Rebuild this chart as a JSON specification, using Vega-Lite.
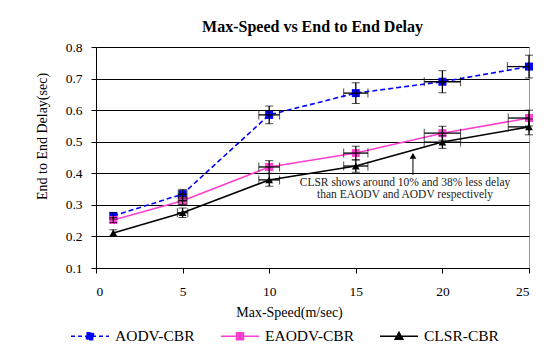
{
  "$schema": "https://vega.github.io/schema/vega-lite/v6.json",
  "width": 433,
  "height": 221,
  "autosize": {"type": "none"},
  "padding": {"left": 96, "top": 47, "right": 28, "bottom": 88},
  "background": "white",
  "title": {"text": "Max-Speed vs End to End Delay", "font": "Liberation Serif, Times New Roman, serif", "fontSize": 16, "fontWeight": "bold", "color": "#000", "offset": 5, "anchor": "middle"},
  "config": {
    "view": {"stroke": "#9a9a9a", "strokeWidth": 1},
    "axis": {"labelFont": "Liberation Serif, Times New Roman, serif", "titleFont": "Liberation Serif, Times New Roman, serif", "labelFontSize": 13.5, "titleFontSize": 14, "titleFontWeight": "normal", "labelColor": "#000", "titleColor": "#000", "domainColor": "#000", "tickColor": "#000", "tickSize": 5},
    "legend": {"labelFont": "Liberation Serif, Times New Roman, serif", "labelFontSize": 15.5, "labelColor": "#000"}
  },
  "datasets": {
    "series": [
      {"series": "AODV-CBR", "speed": 1, "delay": 0.265, "dlo": 0.255, "dhi": 0.275, "slo": 1, "shi": 1},
      {"series": "AODV-CBR", "speed": 5, "delay": 0.334, "dlo": 0.319, "dhi": 0.349, "slo": 4.75, "shi": 5.25},
      {"series": "AODV-CBR", "speed": 10, "delay": 0.585, "dlo": 0.557, "dhi": 0.613, "slo": 9.4, "shi": 10.6},
      {"series": "AODV-CBR", "speed": 15, "delay": 0.654, "dlo": 0.621, "dhi": 0.687, "slo": 14.3, "shi": 15.7},
      {"series": "AODV-CBR", "speed": 20, "delay": 0.69, "dlo": 0.655, "dhi": 0.725, "slo": 18.95, "shi": 21.05},
      {"series": "AODV-CBR", "speed": 25, "delay": 0.738, "dlo": 0.702, "dhi": 0.774, "slo": 23.75, "shi": 25},
      {"series": "EAODV-CBR", "speed": 1, "delay": 0.252, "dlo": 0.244, "dhi": 0.26, "slo": 1, "shi": 1},
      {"series": "EAODV-CBR", "speed": 5, "delay": 0.313, "dlo": 0.301, "dhi": 0.325, "slo": 4.75, "shi": 5.25},
      {"series": "EAODV-CBR", "speed": 10, "delay": 0.42, "dlo": 0.4, "dhi": 0.44, "slo": 9.4, "shi": 10.6},
      {"series": "EAODV-CBR", "speed": 15, "delay": 0.464, "dlo": 0.442, "dhi": 0.486, "slo": 14.3, "shi": 15.7},
      {"series": "EAODV-CBR", "speed": 20, "delay": 0.527, "dlo": 0.505, "dhi": 0.549, "slo": 18.95, "shi": 21.05},
      {"series": "EAODV-CBR", "speed": 25, "delay": 0.575, "dlo": 0.55, "dhi": 0.6, "slo": 23.8, "shi": 25},
      {"series": "CLSR-CBR", "speed": 1, "delay": 0.211, "dlo": 0.201, "dhi": 0.221, "slo": 1, "shi": 1},
      {"series": "CLSR-CBR", "speed": 5, "delay": 0.275, "dlo": 0.26, "dhi": 0.29, "slo": 4.7, "shi": 5.3},
      {"series": "CLSR-CBR", "speed": 10, "delay": 0.379, "dlo": 0.359, "dhi": 0.399, "slo": 9.4, "shi": 10.6},
      {"series": "CLSR-CBR", "speed": 15, "delay": 0.423, "dlo": 0.403, "dhi": 0.443, "slo": 14.3, "shi": 15.7},
      {"series": "CLSR-CBR", "speed": 20, "delay": 0.499, "dlo": 0.479, "dhi": 0.519, "slo": 18.95, "shi": 21.05},
      {"series": "CLSR-CBR", "speed": 25, "delay": 0.547, "dlo": 0.522, "dhi": 0.572, "slo": 23.8, "shi": 25}
    ],
    "note": [
      {"label": "CLSR shows around 10% and 38% less delay", "nx": 17.84, "ny": 0.369},
      {"label": "than EAODV and AODV respectively", "nx": 17.84, "ny": 0.331}
    ],
    "arrow": [
      {"ax": 18.3, "y1": 0.395, "y2": 0.455}
    ]
  },
  "encoding": {
    "x": {"type": "quantitative", "scale": {"domain": [0, 25], "nice": false, "zero": false}, "axis": {"values": [0, 5, 10, 15, 20, 25], "grid": false, "title": "Max-Speed(m/sec)", "titleX": 193, "titleY": 44, "titleBaseline": "middle", "titleAlign": "center", "labelPadding": 11}},
    "y": {"type": "quantitative", "scale": {"domain": [0.1, 0.8], "nice": false, "zero": false}, "axis": {"values": [0.1, 0.2, 0.3, 0.4, 0.5, 0.6, 0.7, 0.8], "format": ".1f", "grid": true, "gridColor": "#000", "gridWidth": 1, "title": "End to End Delay(sec)", "titleX": -54, "titleY": 89, "titleAngle": 270, "titleBaseline": "middle", "titleAlign": "center", "labelPadding": 9}}
  },
  "layer": [
    {
      "data": {"name": "series"},
      "transform": [{"filter": "datum.series == 'AODV-CBR'"}],
      "mark": {"type": "line", "strokeWidth": 1.6, "strokeDash": [5, 3], "color": "#0000FF"},
      "encoding": {
        "x": {"field": "speed", "type": "quantitative"},
        "y": {"field": "delay", "type": "quantitative"}
      }
    },
    {
      "data": {"name": "series"},
      "transform": [{"filter": "datum.series == 'EAODV-CBR'"}],
      "mark": {"type": "line", "strokeWidth": 1.6, "color": "#FF3FCF"},
      "encoding": {
        "x": {"field": "speed", "type": "quantitative"},
        "y": {"field": "delay", "type": "quantitative"}
      }
    },
    {
      "data": {"name": "series"},
      "transform": [{"filter": "datum.series == 'CLSR-CBR'"}],
      "mark": {"type": "line", "strokeWidth": 1.6, "color": "#000000"},
      "encoding": {
        "x": {"field": "speed", "type": "quantitative"},
        "y": {"field": "delay", "type": "quantitative"}
      }
    },
    {
      "data": {"name": "series"},
      "transform": [{"filter": "datum.series == 'AODV-CBR'"}],
      "mark": {"type": "point", "shape": "square", "filled": true, "size": 64, "opacity": 1, "color": "#0000FF"},
      "encoding": {
        "x": {"field": "speed", "type": "quantitative"},
        "y": {"field": "delay", "type": "quantitative"}
      }
    },
    {
      "data": {"name": "series"},
      "transform": [{"filter": "datum.series == 'EAODV-CBR'"}],
      "mark": {"type": "point", "shape": "square", "filled": true, "size": 64, "opacity": 1, "color": "#FF3FCF"},
      "encoding": {
        "x": {"field": "speed", "type": "quantitative"},
        "y": {"field": "delay", "type": "quantitative"}
      }
    },
    {
      "data": {"name": "series"},
      "transform": [{"filter": "datum.series == 'CLSR-CBR'"}],
      "mark": {"type": "point", "shape": "triangle-up", "filled": true, "size": 60, "opacity": 1, "color": "#000000"},
      "encoding": {
        "x": {"field": "speed", "type": "quantitative"},
        "y": {"field": "delay", "type": "quantitative"}
      }
    },
    {
      "data": {"name": "series"},
      "mark": {"type": "errorbar", "ticks": {"size": 8, "color": "#000", "strokeWidth": 1.3}, "rule": {"color": "#000", "strokeWidth": 1.3}},
      "encoding": {
        "x": {"field": "speed", "type": "quantitative"},
        "y": {"field": "dlo", "type": "quantitative"},
        "y2": {"field": "dhi"}
      }
    },
    {
      "data": {"name": "series"},
      "transform": [{"filter": "datum.shi > datum.slo"}],
      "mark": {"type": "errorbar", "ticks": {"size": 9, "color": "#000", "strokeWidth": 1.3}, "rule": {"color": "#000", "strokeWidth": 1.3}},
      "encoding": {
        "y": {"field": "delay", "type": "quantitative"},
        "x": {"field": "slo", "type": "quantitative"},
        "x2": {"field": "shi"}
      }
    },
    {
      "data": {"name": "arrow"},
      "mark": {"type": "rule", "color": "#000", "strokeWidth": 1},
      "encoding": {
        "x": {"field": "ax", "type": "quantitative"},
        "y": {"field": "y1", "type": "quantitative"},
        "y2": {"field": "y2"}
      }
    },
    {
      "data": {"name": "arrow"},
      "mark": {"type": "point", "shape": "triangle-up", "filled": true, "color": "#000", "size": 45, "opacity": 1},
      "encoding": {
        "x": {"field": "ax", "type": "quantitative"},
        "y": {"field": "y2", "type": "quantitative"}
      }
    },
    {
      "data": {"name": "note"},
      "mark": {"type": "text", "font": "Liberation Serif, Times New Roman, serif", "fontSize": 11.5, "color": "#222", "align": "center", "baseline": "middle"},
      "encoding": {
        "x": {"field": "nx", "type": "quantitative"},
        "y": {"field": "ny", "type": "quantitative"},
        "text": {"field": "label"}
      }
    },
    {
      "data": {"name": "series"},
      "transform": [{"filter": "datum.speed < 0"}],
      "mark": {"type": "point", "filled": true, "strokeWidth": 1.6, "opacity": 1},
      "encoding": {
        "x": {"field": "speed", "type": "quantitative"},
        "y": {"field": "delay", "type": "quantitative"},
        "fill": {"field": "series", "type": "nominal", "scale": {"domain": ["AODV-CBR", "EAODV-CBR", "CLSR-CBR"], "range": ["#0000FF", "#FF3FCF", "#000000"]}, "legend": {"title": null, "orient": "none", "legendX": -26, "legendY": 269, "direction": "horizontal", "columnPadding": 22, "symbolSize": 1444, "symbolStrokeWidth": 1.6, "labelOffset": 5}},
        "stroke": {"field": "series", "type": "nominal", "scale": {"domain": ["AODV-CBR", "EAODV-CBR", "CLSR-CBR"], "range": ["#0000FF", "#FF3FCF", "#000000"]}},
        "strokeDash": {"field": "series", "type": "nominal", "scale": {"domain": ["AODV-CBR", "EAODV-CBR", "CLSR-CBR"], "range": [[4, 3], [1, 0], [1, 0]]}},
        "shape": {"field": "series", "type": "nominal", "scale": {"domain": ["AODV-CBR", "EAODV-CBR", "CLSR-CBR"], "range": ["M-1,0H1M-0.18,-0.18H0.18V0.18H-0.18Z", "M-1,0H1M-0.18,-0.18H0.18V0.18H-0.18Z", "M-1,0H1M0,-0.2L0.2,0.16H-0.2Z"]}}
      }
    }
  ]
}
